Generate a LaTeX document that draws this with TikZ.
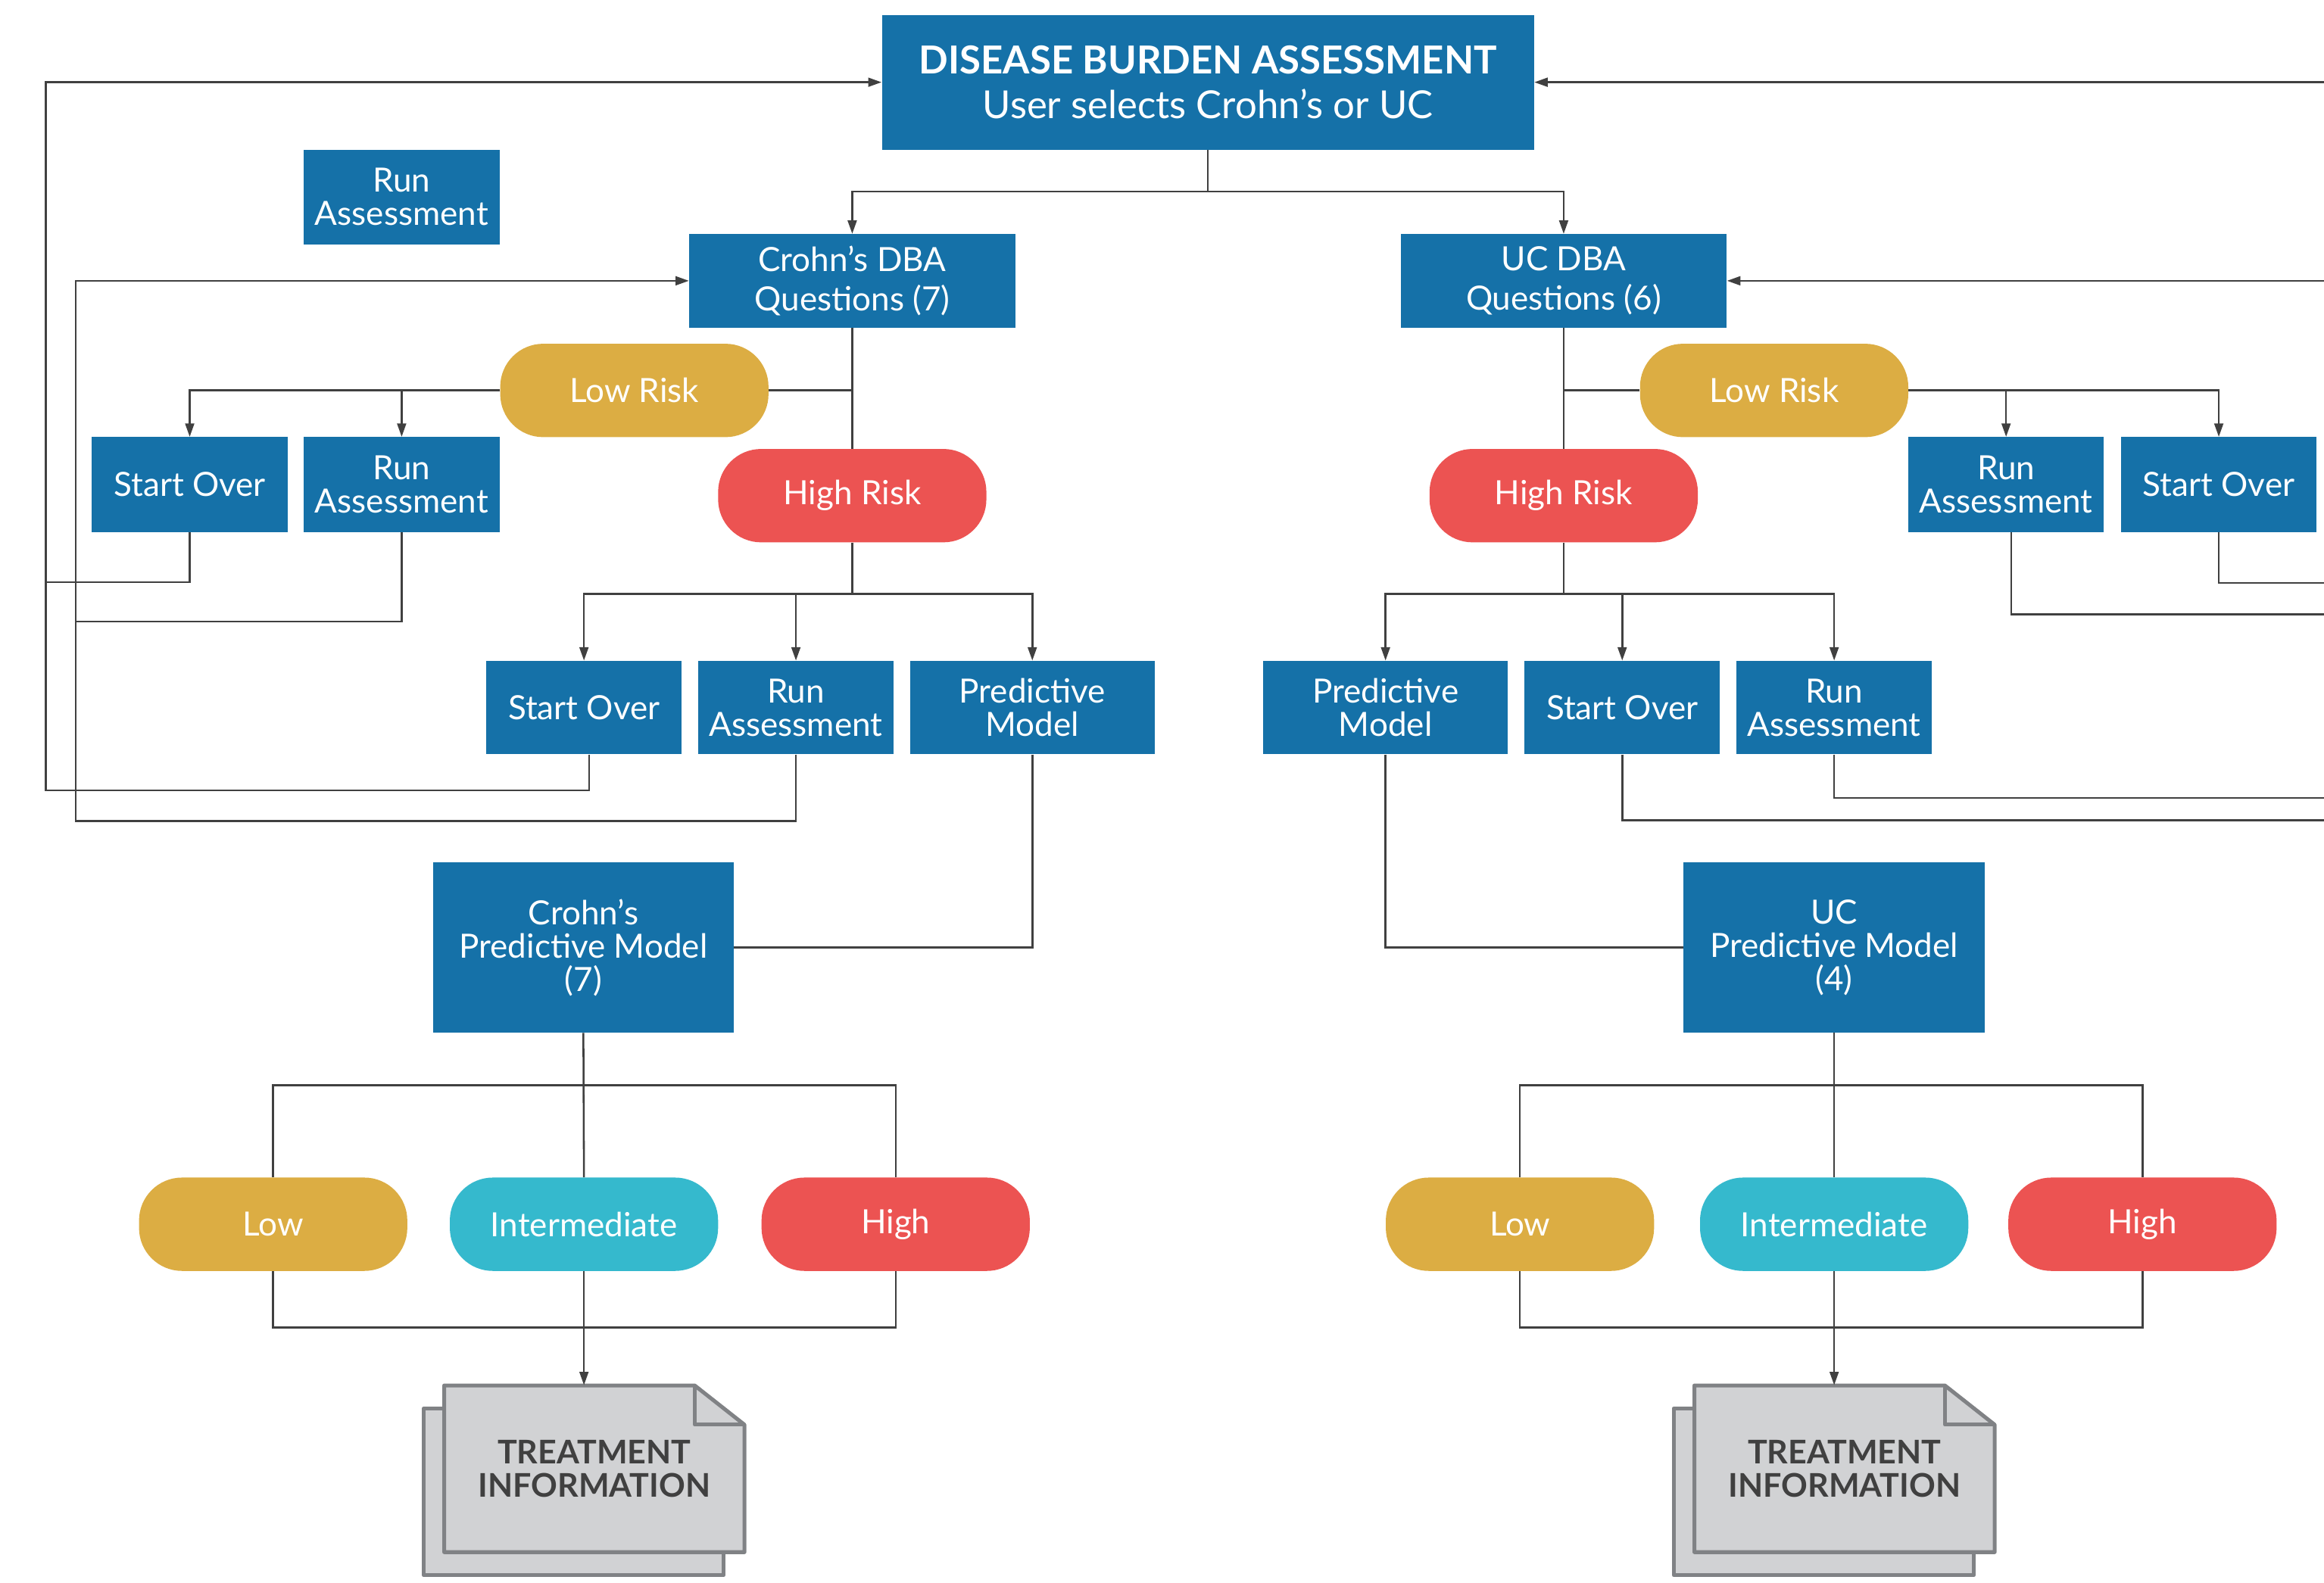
\documentclass[tikz,border=0pt]{standalone}
\usepackage{fontspec}
\setmainfont{Lato}
\usepackage{tikz}
\usetikzlibrary{arrows.meta,positioning}
\definecolor{Blue}{HTML}{1571A8}
\definecolor{Gold}{HTML}{DCAD43}
\definecolor{Coral}{HTML}{EC5352}
\definecolor{Teal}{HTML}{35B9CD}
\definecolor{Ink}{HTML}{404040}
\definecolor{Paper}{HTML}{D1D2D4}
\definecolor{PaperEdge}{HTML}{808285}

\begin{document}
\begin{tikzpicture}[x=1pt,y=-1pt,
  box/.style={fill=Blue,text=white,align=center,inner sep=0pt,minimum width=132pt,minimum height=64pt,font=\fontsize{22.5}{22.5}\selectfont},
  pill/.style={fill=#1,text=white,rounded corners=29pt,inner sep=0pt,minimum width=181pt,minimum height=63pt,font=\fontsize{22.5}{22.5}\selectfont},
  link/.style={draw=Ink,line width=1.3pt},
  arr/.style={link,-{Triangle[length=9pt,width=6pt]}},
  page/.style={fill=Paper,draw=PaperEdge,line width=2.6pt,line join=round},
  treat/.style={text=Ink,align=center,font=\bfseries\fontsize{22}{22.5}\selectfont,minimum width=202pt,minimum height=112.5pt,inner sep=0pt}]
  \useasboundingbox (0,0) rectangle (1568,1068);

  % top
  \node[box,minimum width=440pt,minimum height=91pt,font=\fontsize{26}{30}\selectfont] (dba) at (815,55.5) {\textbf{DISEASE BURDEN ASSESSMENT}\\User selects Crohn’s or UC};
  \node[box] (ra0) at (271,133) {Run\\Assessment};
  \node[box,minimum width=220pt,minimum height=63pt,font=\fontsize{22.5}{26.5}\selectfont] (cq) at (575,189.5) {Crohn’s DBA\\Questions (7)};
  \node[box,minimum width=220pt,minimum height=63pt,font=\fontsize{22.5}{26.5}\selectfont] (uq) at (1055,189.5) {UC DBA\\Questions (6)};

  % Crohn's side
  \node[pill=Gold] (clow) at (428,263.5) {Low Risk};
  \node[pill=Coral] (chigh) at (575,334.5) {High Risk};
  \node[box] (cso1) at (128,327) {Start Over};
  \node[box] (cra1) at (271,327) {Run\\Assessment};
  \node[box,minimum height=63pt] (cso2) at (394,477.5) {Start Over};
  \node[box,minimum height=63pt] (cra2) at (537,477.5) {Run\\Assessment};
  \node[box,minimum height=63pt,minimum width=165pt] (cpm2) at (696.5,477.5) {Predictive\\Model};
  \node[box,minimum width=203pt,minimum height=115pt] (cpm) at (393.6,639.4) {Crohn’s\\Predictive Model\\(7)};

  % UC side
  \node[pill=Gold] (ulow) at (1197,263.5) {Low Risk};
  \node[pill=Coral] (uhigh) at (1055,334.5) {High Risk};
  \node[box] (ura1) at (1353.5,327) {Run\\Assessment};
  \node[box] (uso1) at (1497,327) {Start Over};
  \node[box,minimum height=63pt,minimum width=165pt] (upm2) at (934.8,477.5) {Predictive\\Model};
  \node[box,minimum height=63pt] (uso2) at (1094.5,477.5) {Start Over};
  \node[box,minimum height=63pt] (ura2) at (1237.5,477.5) {Run\\Assessment};
  \node[box,minimum width=203pt,minimum height=115pt] (upm) at (1237.5,639.4) {UC\\Predictive Model\\(4)};

  % results
  \foreach \n/\x/\c/\t in {clo/184.3/Gold/Low, cint/394/Teal/Intermediate, chi/604.3/Coral/High,
                           ulo/1025.5/Gold/Low, uint/1237.5/Teal/Intermediate, uhi/1445.5/Coral/High}
    \node[pill=\c] (\n) at (\x,826.2) {\t};

  \foreach \x/\n in {299.7/ltreat, 1143.2/utreat}{
    \filldraw[page] (\x-14,950.5) rectangle (\x+188.6,1063);
    \filldraw[page] (\x,935) -- (\x+169,935) -- (\x+202.6,961.5) -- (\x+202.6,1047.5) -- (\x,1047.5) -- cycle;
    \draw[page,fill=none] (\x+169,935) |- (\x+202.6,961.5);
    \node[treat] (\n) at (\x+101.3,991.25) {TREATMENT\\INFORMATION};
  }

  % connectors
  \draw[arr] (dba.south) -- ++(0,28) -| (cq.north);
  \draw[arr] (dba.south) -- ++(0,28) -| (uq.north);
  \draw[link] (cq.south) -- (chigh.north);
  \draw[link] (uq.south) -- (uhigh.north);
  \draw[link] (clow.east) -- (clow.east -| cq.south);
  \draw[arr] (clow.west) -| (cso1.north);
  \draw[arr] (clow.west) -| (cra1.north);
  \draw[link] (ulow.west) -- (ulow.west -| uq.south);
  \draw[arr] (ulow.east) -| (ura1.north);
  \draw[arr] (ulow.east) -| (uso1.north);
  \foreach \b in {cso2,cra2,cpm2} \draw[arr] (chigh.south) -- ++(0,34.5) -| (\b.north);
  \foreach \b in {upm2,uso2,ura2} \draw[arr] (uhigh.south) -- ++(0,34.5) -| (\b.north);
  \draw[link] (cpm2.south) |- (cpm.east);
  \draw[link] (upm2.south) |- (upm.west);

  % loops back, left
  \draw[arr] ([xshift=3.5pt]cso2.south) |- (31,533.5) |- (dba.west);
  \draw[link] (cso1.south) |- (31,393);
  \draw[arr] (cra2.south) |- (51,554) |- (cq.west);
  \draw[link] (cra1.south) |- (51,419.5);

  % loops back, right
  \coordinate (edge) at (1568,0);
  \draw[arr] (edge |- dba.east) -- (dba.east);
  \draw[arr] (edge |- uq.east) -- (uq.east);
  \draw[link] (uso1.south) |- (edge |- 0,393.5);
  \draw[link] ([xshift=3.5pt]ura1.south) |- (edge |- 0,414.5);
  \draw[link] (ura2.south) |- (edge |- 0,538.5);
  \draw[link] (uso2.south) |- (edge |- 0,553.5);

  \foreach \pm/\lo/\mi/\hi/\doc in {cpm/clo/cint/chi/ltreat, upm/ulo/uint/uhi/utreat}{
    \draw[link] (\pm.south) -- (\mi.north);
    \draw[link] (\lo.north) -- ++(0,-62) -| (\hi.north);
    \draw[link] (\lo.south) -- ++(0,38) -| (\hi.south);
    \draw[arr] (\mi.south) -- (\mi.south |- \doc.north);
  }
\end{tikzpicture}
\end{document}
